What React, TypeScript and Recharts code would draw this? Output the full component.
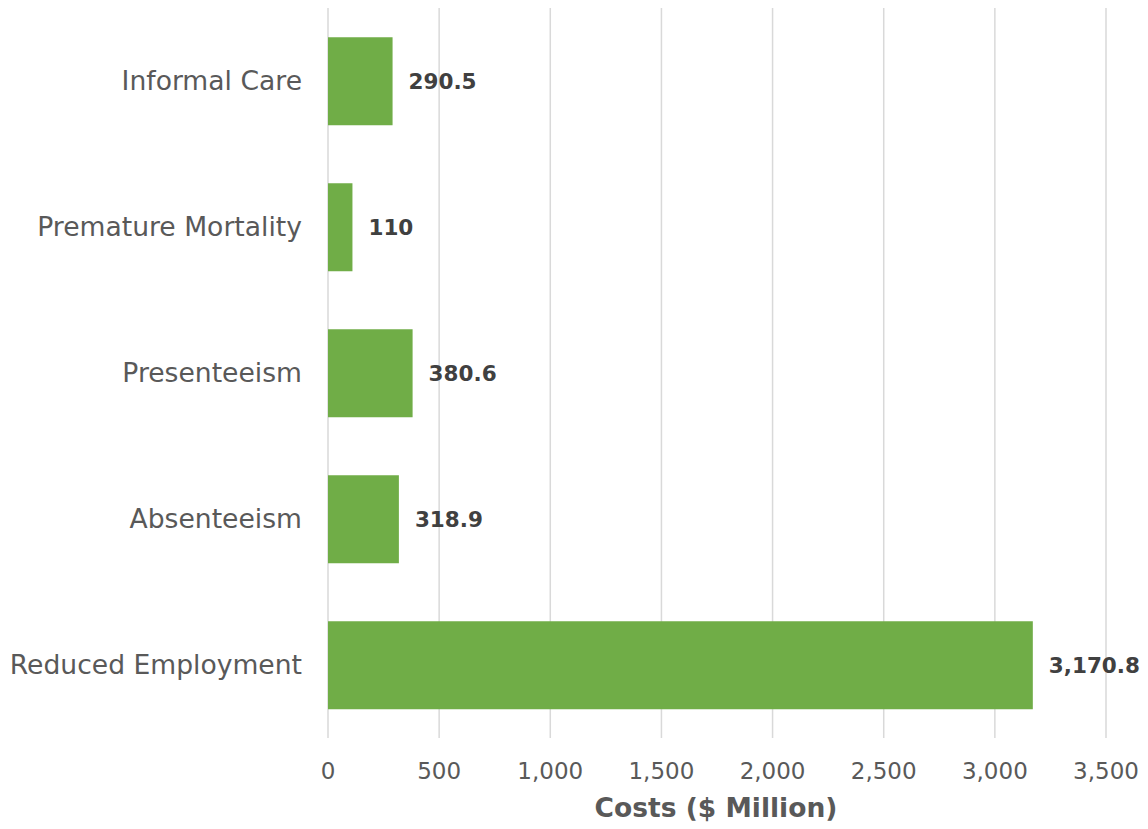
import { Bar, BarChart, CartesianGrid, LabelList, XAxis, YAxis } from "recharts";

const categories = [
  "Informal Care",
  "Premature Mortality",
  "Presenteeism",
  "Absenteeism",
  "Reduced Employment",
];
const costs = [290.5, 110, 380.6, 318.9, 3170.8];
const xTicks = [0, 500, 1000, 1500, 2000, 2500, 3000, 3500];

const data = categories.map((name, i) => ({ name, cost: costs[i] }));

const FONT = "'DejaVu Sans', Verdana, sans-serif";

export default function App() {
  return (
    <div style={{ position: "absolute", left: 0, top: 0, background: "#fff" }}>
      <BarChart
        width={1148}
        height={829}
        data={data}
        layout="vertical"
        margin={{ top: 8, right: 42, bottom: 0, left: 0 }}
        barCategoryGap="20%"
      >
        <CartesianGrid horizontal={false} stroke="#d9d9d9" strokeWidth={1.5} />
        <XAxis
          type="number"
          domain={[0, 3500]}
          ticks={xTicks}
          axisLine={false}
          tickLine={false}
          tickSize={0}
          tickMargin={25}
          height={91}
          interval={0}
          tickFormatter={(v: number) => v.toLocaleString("en-US")}
          tick={{ fill: "#595959", fontSize: 23, fontFamily: FONT }}
          label={{
            value: "Costs ($ Million)",
            position: "insideBottom",
            offset: 12,
            dx: -1,
            fill: "#595959",
            fontSize: 26.5,
            fontWeight: "bold",
            fontFamily: FONT,
          }}
        />
        <YAxis
          type="category"
          dataKey="name"
          width={328}
          axisLine={false}
          tickLine={false}
          tickSize={0}
          tickMargin={26}
          interval={0}
          tick={{ fill: "#595959", fontSize: 26.6, fontFamily: FONT }}
        />
        <Bar dataKey="cost" fill="#70ad47" isAnimationActive={false}>
          <LabelList
            dataKey="cost"
            position="right"
            offset={16}
            formatter={(v: number) => v.toLocaleString("en-US")}
            fill="#404040"
            fontSize={21.5}
            fontWeight="bold"
            fontFamily={FONT}
          />
        </Bar>
      </BarChart>
    </div>
  );
}
